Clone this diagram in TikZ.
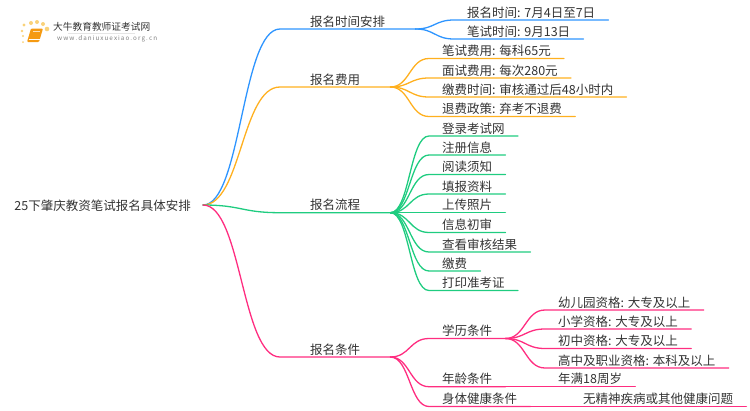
\documentclass[tikz,border=0pt]{standalone}
\usepackage{fontspec}
\setmainfont{Noto Sans CJK SC}
\usetikzlibrary{calc,positioning}
\definecolor{inkgray}{HTML}{333333}
\definecolor{timeblue}{HTML}{2E95FF}
\definecolor{feeorange}{HTML}{FFB01F}
\definecolor{flowgreen}{HTML}{1FCC80}
\definecolor{condpink}{HTML}{FF2D80}
\definecolor{bookorange}{HTML}{F59A12}
\definecolor{dotyellow}{HTML}{F9D27A}
\tikzset{
  topic/.style={anchor=south west, inner ysep=2.6pt, inner xsep=13pt, text height=10pt, text depth=0pt, text=inkgray, font=\fontsize{12.5}{14}\selectfont},
  branch/.style={topic, inner xsep=30pt},
  link/.style={line width=1.3pt, line cap=round, line join=round},
  fork/.style={to path={let \p1=(\tikztostart), \p2=(\tikztotarget) in .. controls ({0.5*\x1+0.5*\x2},\y1) and ({0.5*\x1+0.5*\x2},\y2) .. (\tikztotarget)}}
}
\begin{document}
\begin{tikzpicture}[x=1pt, y=-1pt]
    \useasboundingbox (0,0) rectangle (750,410);

    % logo
    \fill[dotyellow] (24,25) circle (1.6) (31,23) circle (2) (37,22) circle (2) (43,24) circle (2) (47,29) circle (2.3) (22,31) circle (1.4) (23,36) circle (1.2) (23,42) circle (1);
    \fill[bookorange, rounded corners=1pt] (31,28.5) -- (43,28.5) -- (39,42) -- (27,42) -- cycle;
    \draw[white, line width=0.5pt] (28.5,39.5) -- (39.5,39.5);
    \draw[white!70!bookorange, line width=0.6pt] (33,31.5) -- (40,31.5);
    \node[anchor=west, inner sep=0pt, text=inkgray, font=\fontsize{9.7}{11}\selectfont] (logotitle) at (53,27) {大牛教育教师证考试网};
    \draw[gray!20, line width=0.8pt] (68,33.5) -- (135,33.5);
    \node[anchor=west, inner sep=0pt, text=gray, font=\fontsize{6.3}{8}\selectfont] (logourl) at (57,38.5) {w\,w\,w\,.\,d\,a\,n\,i\,u\,x\,u\,e\,x\,i\,a\,o\,.\,o\,r\,g\,.\,c\,n};

    % root
    \node[anchor=east, inner xsep=12pt, inner ysep=0pt, text height=10pt, text depth=0pt, text=inkgray, font=\fontsize{12.5}{14}\selectfont] (root) at (203,205) {25下肇庆教资笔试报名具体安排};

    % branches
    \node[branch] (time) at (280,29) {报名时间安排};
    \node[branch] (fee) at (280,87) {报名费用};
    \node[branch] (flow) at (280,212.7) {报名流程};
    \node[branch] (cond) at (280,357) {报名条件};

    % time
    \node[topic] (time1) at (454,20) {报名时间: 7月4日至7日};
    \node[topic] (time2) at (454,39) {笔试时间: 9月13日};

    % fee
    \node[topic] (fee1) at (429,58.5) {笔试费用: 每科65元};
    \node[topic] (fee2) at (429,78) {面试费用: 每次280元};
    \node[topic] (fee3) at (429,97) {缴费时间: 审核通过后48小时内};
    \node[topic] (fee4) at (429,116.5) {退费政策: 弃考不退费};

    % flow
    \node[topic] (flow1) at (429,136) {登录考试网};
    \node[topic] (flow2) at (429,155) {注册信息};
    \node[topic] (flow3) at (429,174.5) {阅读须知};
    \node[topic] (flow4) at (429,194) {填报资料};
    \node[topic] (flow5) at (429,212.7) {上传照片};
    \node[topic] (flow6) at (429,232.5) {信息初审};
    \node[topic] (flow7) at (429,252) {查看审核结果};
    \node[topic] (flow8) at (429,271) {缴费};
    \node[topic] (flow9) at (429,290.5) {打印准考证};

    % conditions
    \node[topic] (edu) at (429,338.5) {学历条件};
    \node[topic] (age) at (429,386.7) {年龄条件};
    \node[topic] (health) at (429,406.5) {身体健康条件};
    \node[topic] (edu1) at (545,310) {幼儿园资格: 大专及以上};
    \node[topic] (edu2) at (545,329) {小学资格: 大专及以上};
    \node[topic] (edu3) at (545,348.5) {初中资格: 大专及以上};
    \node[topic] (edu4) at (545,368) {高中及职业资格: 本科及以上};
    \node[topic] (age1) at (545,386.7) {年满18周岁};
    \node[topic] (health1) at (570,406.5) {无精神疾病或其他健康问题};

    \draw[link, timeblue] (root.east) to[fork] (time.south west) -- (time.south east);
    \draw[link, feeorange] (root.east) to[fork] (fee.south west) -- (fee.south east);
    \draw[link, flowgreen] (root.east) to[fork] (flow.south west) -- (flow.south east);
    \draw[link, condpink] (root.east) to[fork] (cond.south west) -- (cond.south east);

    \foreach \kid in {time1,time2}
        \draw[link, timeblue] (time.south east) to[fork] (\kid.south west) -- (\kid.south east);
    \foreach \kid in {fee1,fee2,fee3,fee4}
        \draw[link, feeorange] (fee.south east) to[fork] (\kid.south west) -- (\kid.south east);
    \foreach \kid in {flow1,flow2,flow3,flow4,flow5,flow6,flow7,flow8,flow9}
        \draw[link, flowgreen] (flow.south east) to[fork] (\kid.south west) -- (\kid.south east);
    \foreach \kid in {edu,age,health}
        \draw[link, condpink] (cond.south east) to[fork] (\kid.south west) -- (\kid.south east);
    \foreach \kid in {edu1,edu2,edu3,edu4}
        \draw[link, condpink] (edu.south east) to[fork] (\kid.south west) -- (\kid.south east);
    \draw[link, condpink] (age.south east) to[fork] (age1.south west) -- (age1.south east);
    \draw[link, condpink] (health.south east) to[fork] (health1.south west) -- (health1.south east);
\end{tikzpicture}
\end{document}
